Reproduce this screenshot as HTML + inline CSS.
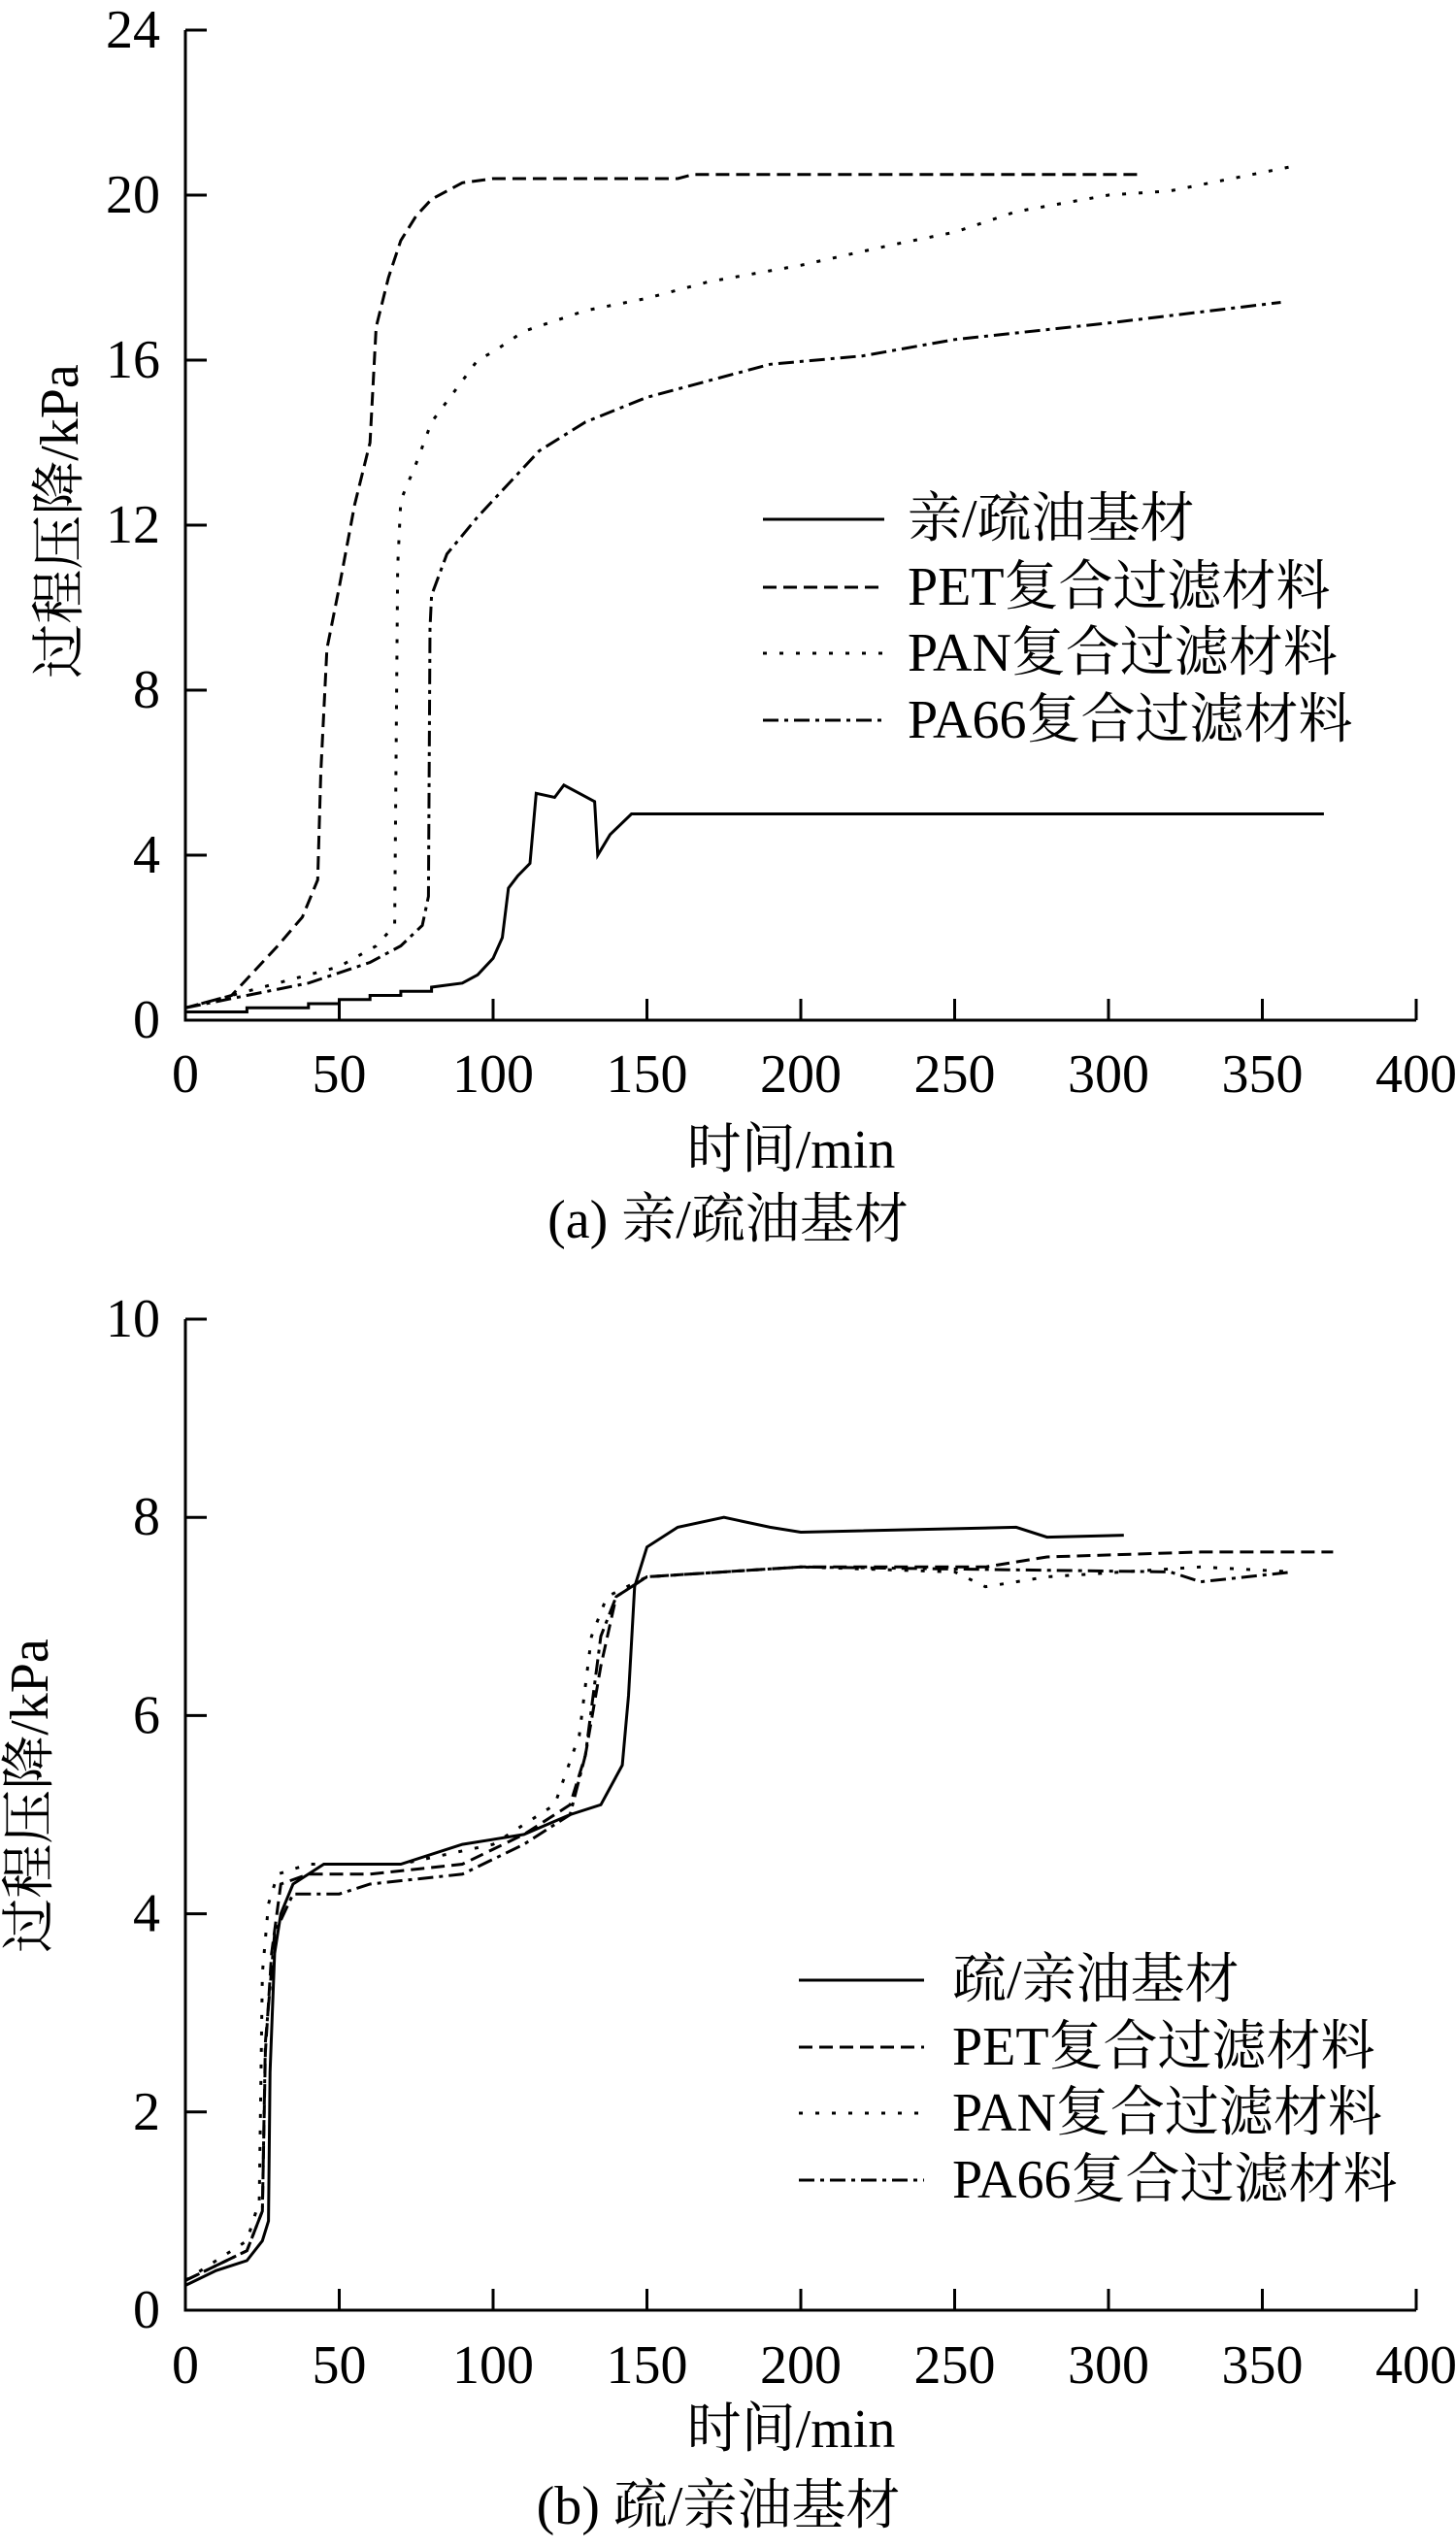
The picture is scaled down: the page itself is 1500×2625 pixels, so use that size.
<!DOCTYPE html>
<html><head><meta charset="utf-8">
<style>
html,body{margin:0;padding:0;background:#fff;}
svg{display:block;}
text{font-family:"Liberation Serif","Noto Serif CJK SC","Noto Sans CJK SC",serif;fill:#000;}
.t{font-size:56px;}
.l{font-size:56px;}
</style></head>
<body>
<svg id="s" width="1500" height="2625" viewBox="0 0 1500 2625" xmlns="http://www.w3.org/2000/svg">
<g stroke="#000" stroke-width="3" fill="none">
<path d="M191,31 V1051 H1459"/>
<path d="M191,1359 V2380 H1459"/>
</g>
<g id="ticks" stroke="#000" stroke-width="3"></g>
<g id="labels" class="t"></g>
<g id="series" fill="none" stroke="#000" stroke-width="3"></g>

<text class="l" x="62" y="537" text-anchor="middle" dominant-baseline="central" transform="rotate(-90 62 537)">过程压降/kPa</text>
<text class="l" x="31" y="1850" text-anchor="middle" dominant-baseline="central" transform="rotate(-90 31 1850)">过程压降/kPa</text>
<text class="l" x="815" y="1185" text-anchor="middle" dominant-baseline="central">时间/min</text>
<text class="l" x="815" y="2503" text-anchor="middle" dominant-baseline="central">时间/min</text>
<text class="l" x="750" y="1257" text-anchor="middle" dominant-baseline="central">(a) 亲/疏油基材</text>
<text class="l" x="740" y="2582" text-anchor="middle" dominant-baseline="central">(b) 疏/亲油基材</text>

<g stroke="#000" stroke-width="3">
<line x1="786" y1="535" x2="911" y2="535"/>
<line x1="786" y1="605" x2="911" y2="605" stroke-dasharray="14,7"/>
<line x1="786" y1="673" x2="911" y2="673" stroke-dasharray="4,13"/>
<line x1="786" y1="742" x2="911" y2="742" stroke-dasharray="16,6,4,6"/>
<line x1="823" y1="2040" x2="952" y2="2040"/>
<line x1="823" y1="2109" x2="952" y2="2109" stroke-dasharray="14,7"/>
<line x1="823" y1="2177" x2="952" y2="2177" stroke-dasharray="4,13"/>
<line x1="823" y1="2246" x2="952" y2="2246" stroke-dasharray="16,6,4,6"/>
</g>
<g class="l">
<text x="935" y="535" dominant-baseline="central">亲/疏油基材</text>
<text x="935" y="605" dominant-baseline="central">PET复合过滤材料</text>
<text x="935" y="673" dominant-baseline="central">PAN复合过滤材料</text>
<text x="935" y="742" dominant-baseline="central">PA66复合过滤材料</text>
<text x="981" y="2040" dominant-baseline="central">疏/亲油基材</text>
<text x="981" y="2109" dominant-baseline="central">PET复合过滤材料</text>
<text x="981" y="2177" dominant-baseline="central">PAN复合过滤材料</text>
<text x="981" y="2246" dominant-baseline="central">PA66复合过滤材料</text>
</g>
</svg>
<script>
(function(){
var NS="http://www.w3.org/2000/svg";
var X0=191,XS=3.17;
function el(p,tag,a,txt){var e=document.createElementNS(NS,tag);for(var k in a)e.setAttribute(k,a[k]);if(txt!==undefined)e.textContent=txt;p.appendChild(e);return e;}
var ticks=document.getElementById('ticks'),labels=document.getElementById('labels'),series=document.getElementById('series');
var charts=[{y0:1051,ys:42.5,yt:[0,4,8,12,16,20,24],xl:1107},{y0:2380,ys:102.1,yt:[0,2,4,6,8,10],xl:2437}];
charts.forEach(function(c){
  for(var t=0;t<=400;t+=50){var x=X0+t*XS;if(t>0)el(ticks,'line',{x1:x,y1:c.y0,x2:x,y2:c.y0-22});
    el(labels,'text',{x:x,y:c.xl,'text-anchor':'middle','dominant-baseline':'central'},String(t));}
  c.yt.forEach(function(v){var y=c.y0-v*c.ys;if(v>0)el(ticks,'line',{x1:X0,y1:y,x2:X0+22,y2:y});
    el(labels,'text',{x:165,y:y,'text-anchor':'end','dominant-baseline':'central'},String(v));});
});
function path(c,pts,dash){var d=pts.map(function(p,i){return (i?'L':'M')+(X0+p[0]*XS).toFixed(1)+','+(c.y0-p[1]*c.ys).toFixed(1);}).join(' ');
  var a={d:d};if(dash)a['stroke-dasharray']=dash;el(series,'path',a);}
var A=charts[0],B=charts[1];
path(A,[[0,0.3],[15,0.6],[30,1.8],[38,2.5],[43,3.4],[44,6],[46,9],[50,10.5],[55,12.5],[60,14],[62,16.8],[66,18],[70,18.9],[75,19.5],[80,19.9],[90,20.3],[100,20.4],[160,20.4],[165,20.5],[310,20.5]],"14,7");
path(A,[[0,0.3],[10,0.5],[30,0.9],[50,1.3],[62,1.8],[68,2.3],[69,11],[70,12.6],[75,13.5],[80,14.5],[90,15.5],[95,16],[100,16.2],[110,16.7],[130,17.2],[150,17.5],[170,17.9],[200,18.3],[230,18.8],[250,19.1],[270,19.6],[300,20],[320,20.1],[340,20.4],[360,20.7]],"4,13");
path(A,[[0,0.3],[20,0.6],[40,0.9],[60,1.4],[70,1.8],[77,2.3],[79,3],[79.5,9.5],[80,10.3],[85,11.3],[95,12.2],[105,13],[115,13.8],[130,14.5],[150,15.1],[170,15.5],[190,15.9],[220,16.1],[250,16.5],[300,16.9],[356,17.4]],"16,6,4,6");
path(A,[[0,0.2],[20,0.2],[20,0.3],[40,0.3],[40,0.4],[50,0.4],[50,0.5],[60,0.5],[60,0.6],[70,0.6],[70,0.7],[80,0.7],[80,0.8],[90,0.9],[95,1.1],[100,1.5],[103,2],[105,3.2],[108,3.5],[112,3.8],[114,5.5],[120,5.4],[123,5.7],[128,5.5],[133,5.3],[134,4],[138,4.5],[145,5],[370,5]]);
path(B,[[0,0.25],[10,0.4],[20,0.5],[25,0.7],[27,0.9],[27.5,2.4],[29,3.6],[31,4.0],[35,4.3],[45,4.5],[55,4.5],[70,4.5],[90,4.7],[110,4.8],[125,5.0],[135,5.1],[142,5.5],[144,6.2],[146,7.3],[150,7.7],[160,7.9],[175,8.0],[190,7.9],[200,7.85],[270,7.9],[280,7.8],[305,7.82]]);
path(B,[[0,0.3],[20,0.6],[25,1],[26,2.6],[28,3.6],[31,4.3],[40,4.4],[60,4.4],[90,4.5],[110,4.8],[125,5.1],[130,5.6],[135,6.5],[140,7.2],[150,7.4],[200,7.5],[260,7.5],[280,7.6],[330,7.65],[373,7.65]],"14,7");
path(B,[[0,0.3],[20,0.7],[24,1.1],[25,3.4],[27,4.1],[30,4.4],[40,4.5],[70,4.5],[100,4.7],[120,5.1],[128,5.8],[132,6.8],[137,7.2],[150,7.4],[200,7.5],[250,7.45],[260,7.3],[280,7.4],[330,7.5],[360,7.45]],"4,13");
path(B,[[0,0.3],[20,0.6],[25,1],[26,2.7],[29,3.8],[35,4.2],[50,4.2],[60,4.3],[90,4.4],[110,4.7],[125,5.0],[130,5.6],[135,6.8],[140,7.2],[150,7.4],[200,7.5],[320,7.45],[330,7.35],[360,7.45]],"16,6,4,6");
})();
</script>
</body></html>
